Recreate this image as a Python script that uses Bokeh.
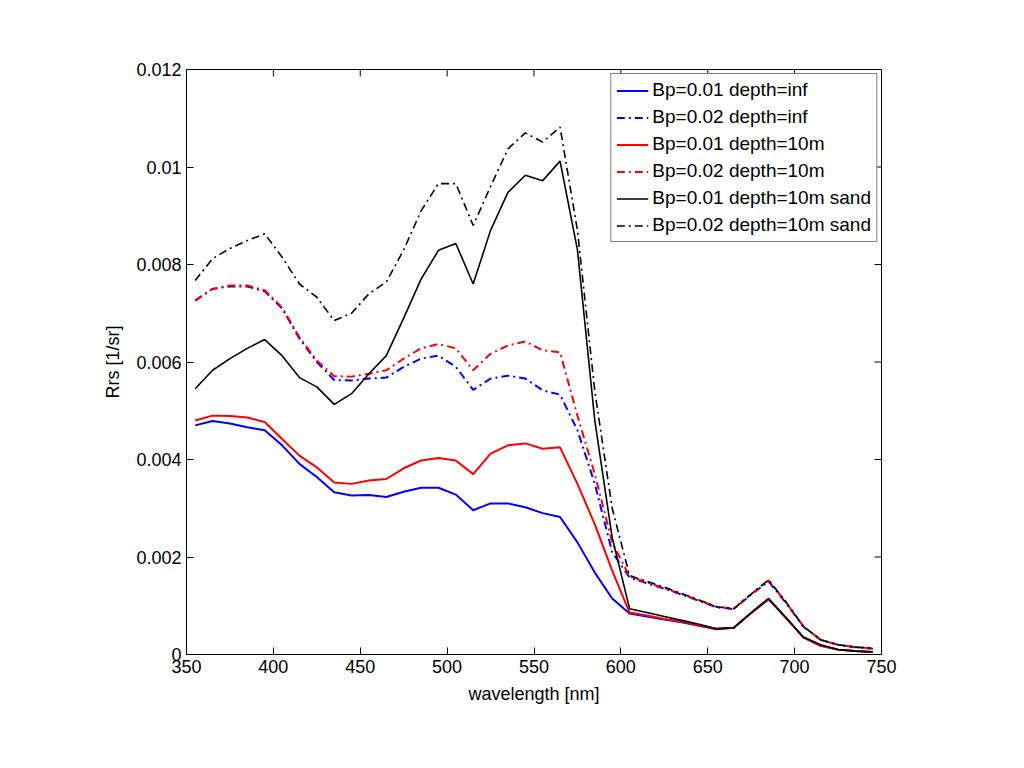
from bokeh.plotting import figure
from bokeh.models import FixedTicker, Range1d
from bokeh.embed import file_html
from bokeh.resources import INLINE

wavelength = [355, 365, 375, 385, 395, 405, 415, 425, 435, 445, 455, 465, 475, 485, 495,
              505, 515, 525, 535, 545, 555, 565, 575, 585, 595, 605, 615, 625, 635, 645,
              655, 665, 675, 685, 695, 705, 715, 725, 735, 745]

bp001_inf = [0.0047, 0.00479, 0.00474, 0.00466, 0.0046, 0.00429, 0.00391, 0.00364, 0.00333, 0.00326,
             0.00327, 0.00323, 0.00334, 0.00342, 0.00342, 0.00328, 0.00296, 0.0031, 0.0031, 0.00302,
             0.0029, 0.00282, 0.0023, 0.00168, 0.00115, 0.00084, 0.00078, 0.00072, 0.00066, 0.00059,
             0.00052, 0.00055, 0.00085, 0.00113, 0.00075, 0.00035, 0.00018, 0.0001, 0.00007, 0.00005]

bp002_inf = [0.00726, 0.0075, 0.00755, 0.00755, 0.00745, 0.0071, 0.00648, 0.006, 0.00563, 0.00562,
             0.00566, 0.00568, 0.0059, 0.00607, 0.00613, 0.0059, 0.00543, 0.00566, 0.00572, 0.00566,
             0.00542, 0.00533, 0.0046, 0.0035, 0.0021, 0.00158, 0.00146, 0.00135, 0.00123, 0.0011,
             0.00097, 0.00093, 0.00123, 0.0015, 0.00106, 0.00057, 0.0003, 0.0002, 0.00015, 0.00012]

bp001_10m = [0.0048, 0.0049, 0.00489, 0.00486, 0.00477, 0.00442, 0.00408, 0.00384, 0.00353, 0.0035,
             0.00357, 0.0036, 0.00382, 0.00398, 0.00403, 0.00398, 0.0037, 0.00412, 0.00429, 0.00433,
             0.00422, 0.00425, 0.0035, 0.00267, 0.00172, 0.00086, 0.0008, 0.00073, 0.00067, 0.0006,
             0.00053, 0.00055, 0.00085, 0.00114, 0.00075, 0.00035, 0.00018, 0.0001, 0.00007, 0.00005]

bp002_10m = [0.00726, 0.0075, 0.00757, 0.00757, 0.00747, 0.00712, 0.00651, 0.00603, 0.00571, 0.0057,
             0.00576, 0.00583, 0.00607, 0.00628, 0.00637, 0.00628, 0.00583, 0.00617, 0.00634, 0.00642,
             0.00624, 0.0062, 0.0049, 0.0037, 0.0023, 0.0016, 0.00148, 0.00136, 0.00124, 0.00111,
             0.00098, 0.00094, 0.00124, 0.00152, 0.00107, 0.00058, 0.0003, 0.0002, 0.00015, 0.00013]

bp001_sand = [0.00545, 0.00583, 0.00607, 0.00628, 0.00646, 0.00613, 0.00568, 0.00549, 0.00513, 0.00535,
              0.00576, 0.00613, 0.0069, 0.0077, 0.00829, 0.00843, 0.0076, 0.0087, 0.00948, 0.00983,
              0.00972, 0.01012, 0.0083, 0.0048, 0.0024, 0.00094, 0.00086, 0.00078, 0.0007, 0.00062,
              0.00053, 0.00055, 0.00086, 0.00115, 0.00076, 0.00036, 0.0002, 0.0001, 0.00007, 0.00005]

bp002_sand = [0.00767, 0.00812, 0.00833, 0.00849, 0.00863, 0.00815, 0.0076, 0.00733, 0.00685, 0.007,
              0.0074, 0.00764, 0.0083, 0.0091, 0.00966, 0.00966, 0.0088, 0.0096, 0.01037, 0.0107,
              0.01051, 0.01082, 0.0087, 0.0054, 0.003, 0.00162, 0.0015, 0.00138, 0.00125, 0.00112,
              0.00098, 0.00094, 0.00124, 0.00153, 0.00108, 0.00058, 0.0003, 0.0002, 0.00015, 0.00013]

x_ticks = [350, 400, 450, 500, 550, 600, 650, 700, 750]
y_ticks = [0, 0.002, 0.004, 0.006, 0.008, 0.01, 0.012]
y_tick_labels = ["0", "0.002", "0.004", "0.006", "0.008", "0.01", "0.012"]
x_min, x_max = 350, 750
y_min, y_max = 0, 0.012

FONT = "Liberation Sans"

p = figure(width=1016, height=760, output_backend="svg", toolbar_location=None,
           x_range=Range1d(x_min, x_max), y_range=Range1d(y_min, y_max),
           min_border_left=186, min_border_right=135, min_border_top=69, min_border_bottom=106)

p.xgrid.visible = False
p.ygrid.visible = False
p.outline_line_color = "black"
p.outline_line_width = 1

series = [
    (bp001_inf, "#0000ff", "solid", 2.0, "Bp=0.01 depth=inf"),
    (bp002_inf, "#0000ff", "8 4 2 4", 2.0, "Bp=0.02 depth=inf"),
    (bp001_10m, "#ff0000", "solid", 2.0, "Bp=0.01 depth=10m"),
    (bp002_10m, "#ff0000", "8 4 2 4", 2.0, "Bp=0.02 depth=10m"),
    (bp001_sand, "black", "solid", 1.6, "Bp=0.01 depth=10m sand"),
    (bp002_sand, "black", "8 4 2 4", 1.6, "Bp=0.02 depth=10m sand"),
]
for ys, col, dash, lw, lab in series:
    p.line(wavelength, ys, line_color=col, line_dash=dash, line_width=lw, legend_label=lab)

# mirrored inward ticks on top and right edges (clipped to the frame)
p.scatter(x=x_ticks, y=[y_max] * len(x_ticks), marker="dash", angle=1.5707963, size=14,
          line_color="black", line_width=1)
p.scatter(x=[x_max] * len(y_ticks), y=y_ticks, marker="dash", size=14,
          line_color="black", line_width=1)

p.xaxis.ticker = FixedTicker(ticks=x_ticks)
p.yaxis.ticker = FixedTicker(ticks=y_ticks)
p.yaxis.major_label_overrides = {v: s for v, s in zip(y_ticks, y_tick_labels)}
p.xaxis.axis_label = "wavelength [nm]"
p.yaxis.axis_label = "Rrs [1/sr]"
for ax in (p.xaxis[0], p.yaxis[0]):
    ax.major_tick_in = 7
    ax.major_tick_out = 0
    ax.minor_tick_line_color = None
    ax.axis_line_color = "black"
    ax.major_tick_line_color = "black"
    ax.major_label_text_font = FONT
    ax.major_label_text_font_size = "18px"
    ax.major_label_text_color = "black"
    ax.axis_label_text_font = FONT
    ax.axis_label_text_font_size = "18px"
    ax.axis_label_text_font_style = "normal"
    ax.axis_label_text_color = "black"
p.xaxis.major_label_standoff = 5
p.yaxis.major_label_standoff = 5
p.xaxis.axis_label_standoff = 8
p.yaxis.axis_label_standoff = 10

lg = p.legend[0]
lg.location = "top_right"
lg.margin = 4
lg.border_line_color = "black"
lg.border_line_width = 1
lg.background_fill_color = "white"
lg.background_fill_alpha = 1
lg.label_text_font = FONT
lg.label_text_font_size = "19px"
lg.label_text_color = "black"
lg.glyph_width = 32
lg.glyph_height = 21
lg.label_height = 21
lg.spacing = 5
lg.padding = 5
lg.label_standoff = 4
lg.label_text_baseline = "middle"

open("out.html", "w").write(file_html(p, INLINE))
